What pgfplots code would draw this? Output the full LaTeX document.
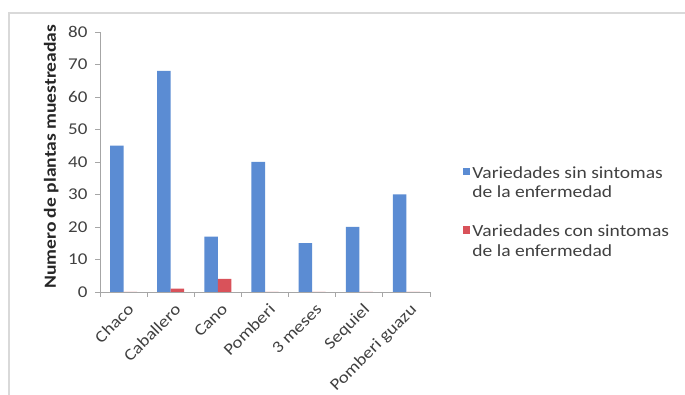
\documentclass[border=0pt]{standalone}
\usepackage{pgfplots}
\pgfplotsset{compat=1.18}
\usepackage{fontspec}
\setmainfont{Carlito}[FakeStretch=1.15]
\definecolor{cblue}{HTML}{5B8CD3}
\definecolor{cred}{HTML}{D9525A}
\definecolor{axgray}{HTML}{A6A6A6}
\definecolor{txt}{HTML}{404040}
\begin{document}
\begin{tikzpicture}[x=1pt,y=1pt]
\useasboundingbox (0,0) rectangle (685,395);
\draw[color=black!15, line width=1.2pt] (9,0) -- (9,382) -- (685,382);
\begin{axis}[
  at={(100pt,103pt)}, anchor=south west, scale only axis,
  width=330pt, height=260pt,
  xmin=-0.5, xmax=6.5, ymin=0, ymax=80,
  ytick={0,10,...,80},
  xtick={-0.5,0.5,...,6.5},
  x tick label as interval,
  xticklabels={Chaco,Caballero,Cano,Pomberi,3 meses,Sequiel,Pomberi guazu},
  axis x line*=bottom, axis y line*=left,
  axis line style={draw=axgray, line width=0.8pt},
  tick style={draw=axgray, line width=0.8pt},
  tick align=outside, major tick length=5pt,
  ticklabel style={font=\fontsize{16.5}{18}\selectfont, text=txt},
  /pgf/number format/assume math mode=true,
  xticklabel style={xshift=3pt, yshift=-4pt, rotate=45, anchor=north east, inner sep=1pt},
  yticklabel style={xshift=-4pt},
  ylabel={\textbf{Numero de plantas muestreadas}},
  ylabel style={font=\fontsize{17}{19}\selectfont, text=black!85,
    at={(axis description cs:-0.148,0.52)}, anchor=center},
  ybar=0pt, bar width=13.5pt,
  legend style={at={(1.09,0.5)}, anchor=north west, draw=none, fill=none,
    font=\fontsize{17}{20}\selectfont, text=txt, row sep=21pt,
    cells={anchor=west, align=left}},
  legend image code/.code={\draw[#1, draw=none] (0pt,7.5pt) rectangle (7.5pt,15pt);},
]
\addplot[fill=cblue, draw=none] coordinates {(0,45) (1,68) (2,17) (3,40) (4,15) (5,20) (6,30)};
\addlegendentry{Variedades sin sintomas\\de la enfermedad}
\addplot[fill=cred, draw=none] coordinates {(0,0) (1,1) (2,4) (3,0) (4,0) (5,0) (6,0)};
\addlegendentry{Variedades con sintomas\\de la enfermedad}
\end{axis}
\end{tikzpicture}
\end{document}
